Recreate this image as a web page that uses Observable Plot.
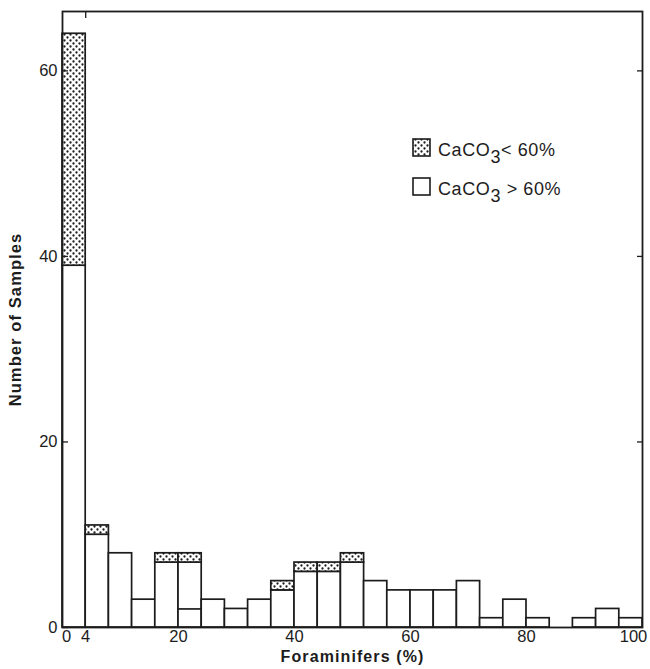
<!DOCTYPE html>
<html>
<head>
<meta charset="utf-8">
<script src="https://cdn.jsdelivr.net/npm/d3@7"></script>
<script src="https://cdn.jsdelivr.net/npm/@observablehq/plot@0.6"></script>
<style>
  html, body { margin: 0; padding: 0; background: #fff; }
  #chart { width: 650px; height: 669px; }
</style>
</head>
<body>
<div id="chart"></div>
<script>
// ---- data ----
const binStart = [0,4,8,12,16,20,24,28,32,36,40,44,48,52,56,60,64,68,72,76,80,84,88,92,96];
const binWidth = 4;
// CaCO3 > 60% (open bars)
const gt60 = [39,10,8,3,7,7,3,2,3,4,6,6,7,5,4,4,4,5,1,3,1,0,1,2,1];
// CaCO3 < 60% (dotted, stacked on top)
const lt60 = [25,1,0,0,1,1,0,0,0,1,1,1,1,0,0,0,0,0,0,0,0,0,0,0,0];
// an inner dividing line drawn inside the 20–24 bar in the original
const dividerBins = [20];
const dividerValues = [2];
const seriesNames = ["CaCO3 > 60%", "CaCO3 < 60%"];
const xTicks = [0,4,20,40,60,80,100];
const yTicks = [0,20,40,60];
const xLabel = "Foraminifers (%)";
const yLabel = "Number of Samples";

// ---- build table ----
const rows = [];
binStart.forEach((b, i) => {
  rows.push({x1: b, x2: b + binWidth, series: seriesNames[0], n: gt60[i]});
  rows.push({x1: b, x2: b + binWidth, series: seriesNames[1], n: lt60[i]});
});
const rowsNZ = rows.filter(d => d.n > 0);
const dividers = dividerBins.map((b, i) => ({x1: b, x2: b + binWidth, y: dividerValues[i]}));

const INK = "#1c1c1c";
const FONT = "'Liberation Sans', Arial, Helvetica, sans-serif";

const chart = Plot.plot({
  width: 650,
  height: 669,
  marginLeft: 62,
  marginRight: 8,
  marginTop: 11,
  marginBottom: 42,
  style: {fontFamily: FONT, color: INK, background: "#fff"},
  x: {domain: [0, 100]},
  y: {domain: [0, 66.4]},
  color: {type: "identity"},
  marks: [
    Plot.rectY(rowsNZ, Plot.stackY({
      x1: "x1", x2: "x2", y: "n",
      fill: d => d.series === seriesNames[1] ? "url(#dots)" : "white",
      stroke: INK, strokeWidth: 1.7
    })),
    Plot.ruleY(dividers, {x1: "x1", x2: "x2", y: "y", stroke: INK, strokeWidth: 1.7}),
    Plot.frame({stroke: INK, strokeWidth: 1.8}),
    // inward ticks
    Plot.axisY({anchor: "left", ticks: yTicks, tickSize: -6, tickFormat: () => "", label: null, stroke: INK, strokeWidth: 1.3}),
    Plot.axisY({anchor: "right", ticks: yTicks.slice(1), tickSize: -6, tickFormat: () => "", label: null, stroke: INK, strokeWidth: 1.3}),
    Plot.axisX({anchor: "top", ticks: [4], tickSize: -6, tickFormat: () => "", label: null, stroke: INK, strokeWidth: 1.3}),
    // tick labels
    Plot.axisY({anchor: "left", ticks: yTicks, tickSize: 0, tickPadding: 5, label: null, fontSize: 16.5, fill: INK}),
    Plot.axisX({anchor: "bottom", ticks: xTicks, tickSize: 0, tickPadding: 3, label: null, fontSize: 16.5, fill: INK}),
    // axis titles
    Plot.text([xLabel], {text: d => d, frameAnchor: "bottom", dy: 34, fontSize: 16, fontWeight: "bold", fill: INK}),
    Plot.text([yLabel], {text: d => d, frameAnchor: "left", textAnchor: "middle", dx: -47, rotate: -90, fontSize: 16.5, fontWeight: "bold", fill: INK})
  ]
});

document.getElementById("chart").appendChild(chart);

const svg = d3.select(chart);
// letter spacing on the axis titles (the original is typeset loosely)
svg.selectAll("text").filter(function() {
  return this.textContent === xLabel || this.textContent === yLabel;
}).attr("letter-spacing", 1.1);

// dotted fill pattern
const defs = svg.insert("defs", ":first-child");
const pat = defs.append("pattern")
  .attr("id", "dots").attr("patternUnits", "userSpaceOnUse")
  .attr("width", 6).attr("height", 6);
pat.append("rect").attr("width", 6).attr("height", 6).attr("fill", "#fff");
pat.append("circle").attr("cx", 1.5).attr("cy", 1.5).attr("r", 1.15).attr("fill", INK);
pat.append("circle").attr("cx", 4.5).attr("cy", 4.5).attr("r", 1.15).attr("fill", INK);

// nudge the end x labels inward, like the original
svg.selectAll('g[aria-label="x-axis tick label"] text')
  .each(function() {
    if (this.textContent === "0") d3.select(this).attr("dx", 4);
    if (this.textContent === "100") d3.select(this).attr("dx", -9);
  });

// legend (inside the plot area, as in the reference)
const legend = svg.append("g")
  .attr("font-family", FONT).attr("font-size", 18).attr("fill", INK)
  .attr("text-anchor", "start");
const items = [
  {fill: "url(#dots)", pre: "CaCO", sub: "3", post: "< 60%", y: 139},
  {fill: "#fff", pre: "CaCO", sub: "3", post: " > 60%", y: 178}
];
items.forEach(it => {
  legend.append("rect").attr("x", 413).attr("y", it.y).attr("width", 17).attr("height", 17)
    .attr("fill", it.fill).attr("stroke", INK).attr("stroke-width", 1.6);
  const t = legend.append("text").attr("x", 438).attr("y", it.y + 17)
    .attr("text-anchor", "start").attr("letter-spacing", 0.6).style("white-space", "pre");
  t.append("tspan").text(it.pre);
  t.append("tspan").attr("dy", 7).text(it.sub);
  t.append("tspan").attr("dy", -7).text(it.post);
});
</script>
</body>
</html>
